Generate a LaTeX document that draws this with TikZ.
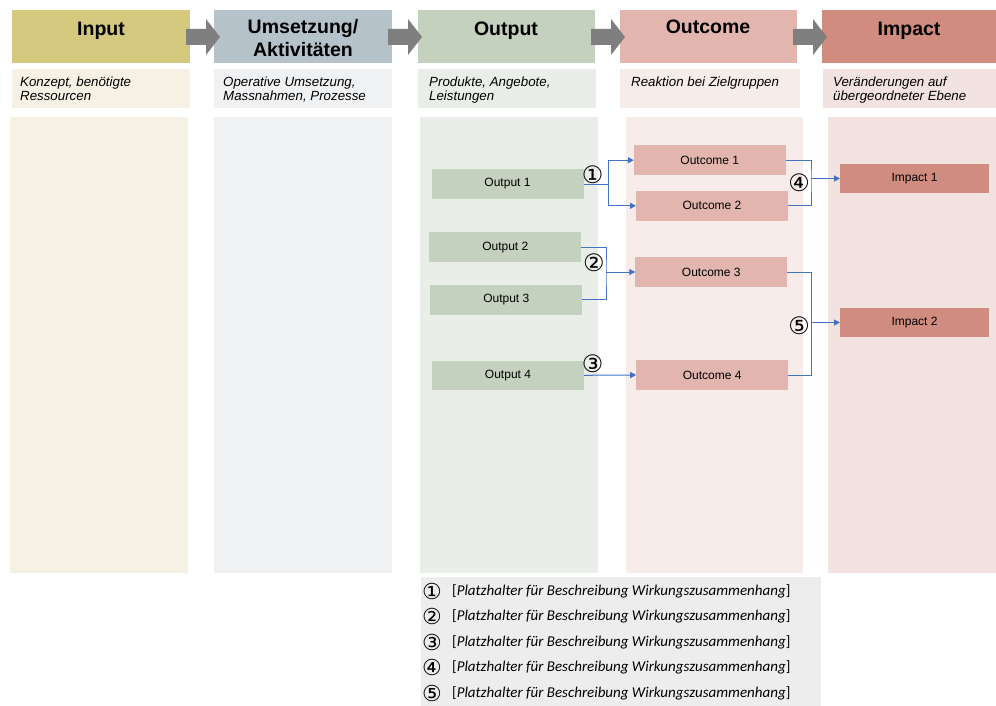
\documentclass[tikz,border=0pt]{standalone}
\usepackage{fontspec}
\setmainfont{Liberation Sans}
\newfontfamily\legendfont{Carlito}
\newfontfamily\symfont{DejaVu Sans}
\usetikzlibrary{arrows.meta}

% column colours: header tone and light tone
\definecolor{inH}{HTML}{D4C97E}
\definecolor{inL}{HTML}{F5F2E5}
\definecolor{umH}{HTML}{B5C2C9}
\definecolor{umL}{HTML}{F0F1F3}
\definecolor{outH}{HTML}{C5D1BF}
\definecolor{outL}{HTML}{E9EEE8}
\definecolor{ocH}{HTML}{E2B6AF}
\definecolor{ocL}{HTML}{F7ECEA}
\definecolor{imH}{HTML}{D08C7E}
\definecolor{imL}{HTML}{F3E3E0}
\definecolor{arrowgray}{HTML}{7F7F7F}
\definecolor{linkblue}{HTML}{4472C4}
\definecolor{legendbg}{HTML}{EDEDED}

\tikzset{
  panel/.style={inner sep=0pt, outer sep=0pt, anchor=north west, draw=none},
  hdrbox/.style={panel, minimum width=178pt, minimum height=53pt},
  hdrtxt/.style={inner sep=0pt, anchor=base, font=\fontsize{19.5}{23}\selectfont\bfseries},
  descbox/.style={panel, minimum width=178pt, minimum height=39pt},
  desctxt/.style={inner sep=0pt, anchor=base west, font=\fontsize{13.3}{13.5}\selectfont\itshape},
  bodybox/.style={panel, minimum width=178pt, minimum height=456pt},
  item/.style={inner sep=0pt, outer sep=0pt, minimum width=152pt, minimum height=29.5pt, font=\fontsize{12}{14}\selectfont},
  outitem/.style={item, fill=outH},
  ocitem/.style={item, fill=ocH},
  imitem/.style={item, fill=imH, minimum width=149pt, minimum height=29pt},
  link/.style={draw=linkblue, line width=1pt},
  linkarrow/.style={link, -{Triangle[length=6pt,width=6pt]}},
  % box heights chosen so that the node centre sits on the centre of the circle
  circnum/.style={inner sep=0pt, text height=20.2pt, text depth=0pt, font=\symfont\fontsize{24}{24}\selectfont},
  legnum/.style={inner sep=0pt, text height=18.5pt, text depth=0pt, font=\symfont\fontsize{22}{22}\selectfont},
  legtxt/.style={inner sep=0pt, anchor=base west, font=\legendfont\fontsize{15}{16}\selectfont},
}

\begin{document}
\begin{tikzpicture}[x=1pt, y=-1pt]
\useasboundingbox (0,0) rectangle (996,706);

% body panels
\node[bodybox, fill=inL]  (bIn)  at (10,117)  {};
\node[bodybox, fill=umL]  (bUm)  at (214,117) {};
\node[bodybox, fill=outL] (bOut) at (420,117) {};
\node[bodybox, fill=ocL, minimum width=177pt]  (bOc)  at (626,117) {};
\node[bodybox, fill=imL, minimum width=168pt]  (bIm)  at (828,117) {};

% description panels
\node[descbox, fill=inL]  (dIn)  at (12,69)  {};
\node[descbox, fill=umL]  (dUm)  at (214,69) {};
\node[descbox, fill=outL] (dOut) at (418,69) {};
\node[descbox, fill=ocL, minimum width=180pt]  (dOc)  at (620,69) {};
\node[descbox, fill=imL, minimum width=173pt]  (dIm)  at (823,69) {};

\node[desctxt] (tIn1)  at (20,86.5)  {Konzept, benötigte};
\node[desctxt] (tIn2)  at (20,100.5) {Ressourcen};
\node[desctxt] (tUm1)  at (223,86.5)  {Operative Umsetzung,};
\node[desctxt] (tUm2)  at (223,100.5) {Massnahmen, Prozesse};
\node[desctxt] (tOut1) at (429,86.5)  {Produkte, Angebote,};
\node[desctxt] (tOut2) at (429,100.5) {Leistungen};
\node[desctxt] (tOc1)  at (631,86.5)  {Reaktion bei Zielgruppen};
\node[desctxt] (tIm1)  at (833,86.5)  {Veränderungen auf};
\node[desctxt] (tIm2)  at (833,100.5) {übergeordneter Ebene};

% header boxes
\node[hdrbox, fill=inH]  (hIn)  at (12,10)  {};
\node[hdrbox, fill=umH]  (hUm)  at (214,10) {};
\node[hdrbox, fill=outH, minimum width=177pt] (hOut) at (418,10) {};
\node[hdrbox, fill=ocH, minimum width=177pt]  (hOc)  at (620,10) {};
\node[hdrbox, fill=imH, minimum width=174pt]  (hIm)  at (822,10) {};

% block arrows between the headers
\foreach \x in {186,388,591,793}{
  \fill[arrowgray] (\x,29) -- (\x+20,29) -- (\x+20,19) -- (\x+34,37)
        -- (\x+20,55) -- (\x+20,45) -- (\x,45) -- cycle;
}

\node[hdrtxt] (tHIn)  at (101,35.5)  {Input};
\node[hdrtxt] (tHUm1) at (303,33.5)  {Umsetzung/};
\node[hdrtxt] (tHUm2) at (303,57) {Aktivitäten};
\node[hdrtxt] (tHOut) at (506,35.5)  {Output};
\node[hdrtxt] (tHOc)  at (708,33.5)  {Outcome};
\node[hdrtxt] (tHIm)  at (909,35.5)  {Impact};

% items
\node[outitem] (out1) at (507.5,184)   {Output 1};
\node[outitem] (out2) at (505.3,247.2) {Output 2};
\node[outitem] (out3) at (506.3,299.8) {Output 3};
\node[outitem] (out4) at (508,375.3)   {Output 4};
\node[ocitem]  (oc1)  at (709.8,160.2) {Outcome 1};
\node[ocitem]  (oc2)  at (712,205.8)   {Outcome 2};
\node[ocitem]  (oc3)  at (711.3,272)   {Outcome 3};
\node[ocitem]  (oc4)  at (712.2,375)   {Outcome 4};
\node[imitem]  (im1)  at (914.5,178.5) {Impact 1};
\node[imitem]  (im2)  at (914.5,322.5) {Impact 2};

% links
\coordinate (j1) at (608.3,184);
\draw[link] (out1.east) -- (j1);
\draw[linkarrow] (j1) |- (oc1.west);
\draw[linkarrow] (j1) |- (oc2.west);

\coordinate (j2) at (606,272);
\draw[link] (out2.east) -| (j2) |- (out3.east);
\draw[linkarrow] (j2) -- (oc3.west);

\draw[linkarrow] (out4.east) -- (oc4.west);

\coordinate (j4) at (811,178.5);
\draw[link] (oc1.east) -| (j4) |- (oc2.east);
\draw[linkarrow] (j4) -- (im1.west);

\coordinate (j5) at (811.5,322.5);
\draw[link] (oc3.east) -| (j5) |- (oc4.east);
\draw[linkarrow] (j5) -- (im2.west);

\node[circnum] (c1) at (592.7,173.3) {①};
\node[circnum] (c2) at (594,261)     {②};
\node[circnum] (c3) at (592.7,362.7) {③};
\node[circnum] (c4) at (799,181.7)   {④};
\node[circnum] (c5) at (799,324.3)   {⑤};

% legend
\node[panel, fill=legendbg, minimum width=400pt, minimum height=130pt] (leg) at (421,577) {};
\foreach \i/\s/\y in {1/①/590, 2/②/615.5, 3/③/641, 4/④/666.5, 5/⑤/692}{
  \node[legnum] (ln\i) at (432,\y) {\s};
  \node[legtxt] (lt\i) at (452,\y+5) {[\textit{Platzhalter für Beschreibung Wirkungszusammenhang}]};
}
\end{tikzpicture}
\end{document}
